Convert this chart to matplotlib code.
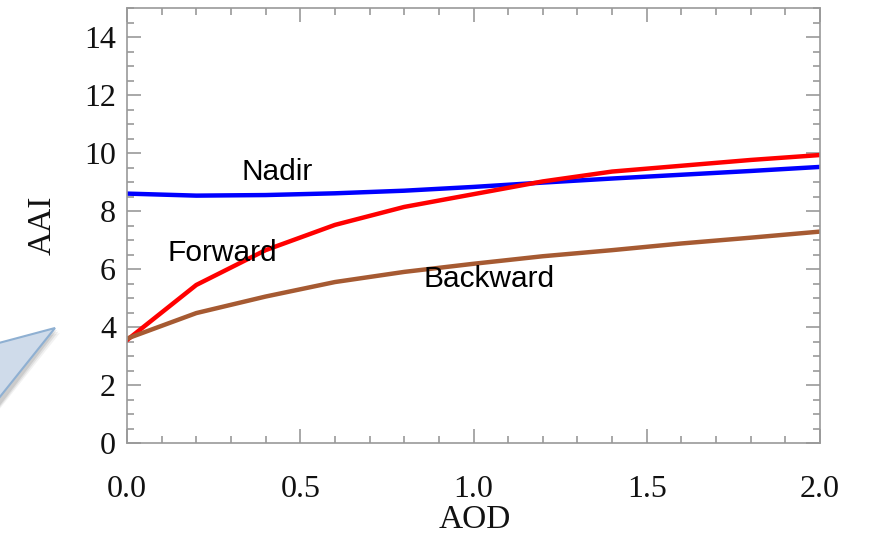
import numpy as np
import matplotlib
matplotlib.use("Agg")
import matplotlib.pyplot as plt
from matplotlib.patches import Polygon
from matplotlib.ticker import MultipleLocator

aod = [0.0, 0.2, 0.4, 0.6, 0.8, 1.0, 1.2, 1.4, 1.6, 1.8, 2.0]
nadir = [8.6, 8.53, 8.55, 8.61, 8.7, 8.83, 8.98, 9.12, 9.25, 9.38, 9.52]
forward = [3.55, 5.45, 6.65, 7.52, 8.14, 8.58, 9.02, 9.36, 9.56, 9.76, 9.93]
backward = [3.6, 4.48, 5.05, 5.55, 5.9, 6.18, 6.44, 6.65, 6.88, 7.08, 7.29]

W, H = 869, 538
fig = plt.figure(figsize=(W / 100, H / 100), dpi=100)
ax = fig.add_axes([127 / W, 1 - 443 / H, 693 / W, 435 / H])

ax.plot(aod, nadir, color="#0000ff", lw=3.2)
ax.plot(aod, forward, color="#ff0000", lw=3.2)
ax.plot(aod, backward, color="#a65a32", lw=3.2)

sans = "Liberation Sans"
ax.text(0.433, 9.34, "Nadir", fontsize=21.5, family=sans, ha="center", va="center")
ax.text(0.274, 6.55, "Forward", fontsize=21.5, family=sans, ha="center", va="center")
ax.text(1.045, 5.66, "Backward", fontsize=21.5, family=sans, ha="center", va="center")

ax.set_xlim(0, 2)
ax.set_ylim(0, 15)
ax.xaxis.set_major_locator(MultipleLocator(0.5))
ax.xaxis.set_minor_locator(MultipleLocator(0.1))
ax.yaxis.set_major_locator(MultipleLocator(2))
ax.yaxis.set_minor_locator(MultipleLocator(0.5))
ax.set_xticks([0, 0.5, 1.0, 1.5, 2.0])
ax.set_xticklabels(["0.0", "0.5", "1.0", "1.5", "2.0"])

for s in ax.spines.values():
    s.set_color("#999999")
    s.set_linewidth(1.2)
ax.tick_params(which="both", direction="in", top=True, right=True, color="#999999", width=1.2)
ax.tick_params(which="major", length=10)
ax.tick_params(which="minor", length=5)
ax.tick_params(axis="x", pad=23, labelsize=23)
ax.tick_params(axis="y", pad=8, labelsize=23)
for lab in ax.get_xticklabels() + ax.get_yticklabels():
    lab.set_family("Liberation Serif")
    lab.set_color("#111111")

fig.text(475 / W, 1 - 520 / H, "AOD", fontsize=24, family="Liberation Serif",
         ha="center", va="center", color="#111111")
fig.text(42 / W, 1 - 225 / H, "AAI", fontsize=24, family="Liberation Serif",
         ha="center", va="center", rotation=90, color="#111111")

# callout tip sticking in from the left edge
def px(pts):
    return [(x / W, 1 - y / H) for x, y in pts]

for i, a in enumerate([0.05, 0.07, 0.09]):
    d = 5 - i * 1.5
    fig.add_artist(Polygon(px([(-5, 343 + d), (55 + d, 328 + d), (-5, 410 + d)]),
                           closed=True, transform=fig.transFigure,
                           facecolor="#000000", edgecolor="none", alpha=a))
fig.add_artist(Polygon(px([(-5, 344), (55, 328), (-5, 403)]), closed=True,
                       transform=fig.transFigure, facecolor="#cfdbea",
                       edgecolor="#8fb0d2", linewidth=1.5))

fig.savefig("out.png", dpi=100)
